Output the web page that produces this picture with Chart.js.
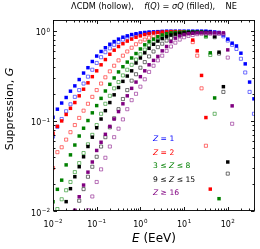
<!DOCTYPE html>
<html>
<head>
<meta charset="utf-8">
<script src="https://cdn.jsdelivr.net/npm/chart.js@4.4.1/dist/chart.umd.min.js"></script>
<style>
    html, body { margin: 0; padding: 0; background: #fff; }
    #wrap { width: 260px; height: 249px; }
</style>
</head>
<body>
<div id="wrap"><canvas id="chart" width="260" height="249"></canvas></div>
<script>
// energy grid (EeV), 10 points per decade
const energy = [
    0.01, 0.0126, 0.0158, 0.02, 0.0251, 0.0316, 0.0398, 0.0501, 0.0631, 0.0794,
    0.1, 0.126, 0.158, 0.2, 0.251, 0.316, 0.398, 0.501, 0.631, 0.794,
    1, 1.26, 1.58, 2, 2.51, 3.16, 3.98, 5.01, 6.31, 7.94,
    10, 12.6, 15.8, 20, 25.1, 31.6, 39.8, 50.1, 63.1, 79.4,
    100, 126, 158, 200, 251, 316, 398,
];

// f(Q) = sigma Q (filled markers)
const blueFilled = [
    0.11, 0.135, 0.158, 0.182, 0.214, 0.245, 0.288, 0.34, 0.39, 0.457,
    0.525, 0.59, 0.65, 0.71, 0.76, 0.81, 0.85, 0.88, 0.91, 0.93,
    0.95, 0.96, 0.97, 0.975, 0.98, 0.985, 0.99, 0.99, 0.99, 0.99,
    0.99, 0.99, 0.99, 0.99, 0.99, 0.99, 0.98, 0.97, 0.96, 0.90,
    0.81, 0.73, 0.68, 0.565, 0.43, 0.27, 0.176,
];
const redFilled = [
    0.073, 0.087, 0.10, 0.118, 0.138, 0.16, 0.19, 0.225, 0.265, 0.31,
    0.36, 0.42, 0.48, 0.55, 0.61, 0.67, 0.72, 0.77, 0.81, 0.85,
    0.88, 0.91, 0.93, 0.95, 0.96, 0.97, 0.975, 0.98, 0.98, 0.98,
    0.975, 0.95, 0.79, 0.60, 0.32, 0.109, 0.0175, null, null, null,
    null, null, null, null, null, null, null,
];
const greenFilled = [
    0.0127, 0.0174, 0.022, 0.0325, 0.042, 0.054, 0.068, 0.083, 0.101, 0.123,
    0.148, 0.178, 0.215, 0.255, 0.30, 0.35, 0.40, 0.45, 0.50, 0.56,
    0.63, 0.70, 0.76, 0.81, 0.86, 0.90, 0.93, 0.95, 0.96, 0.965,
    0.97, 0.97, 0.97, 0.97, 0.97, 0.88, 0.57, 0.18, 0.0137, null,
    null, null, null, null, null, null, null,
];
const blackFilled = [
    null, null, 0.0095, 0.0127, 0.0177, 0.024, 0.031, 0.04, 0.052, 0.066,
    0.084, 0.105, 0.13, 0.16, 0.195, 0.235, 0.275, 0.315, 0.36, 0.44,
    0.50, 0.57, 0.64, 0.71, 0.77, 0.82, 0.86, 0.90, 0.92, 0.94,
    0.95, 0.96, 0.96, 0.96, 0.96, 0.96, 0.96, 0.865, 0.58, 0.24,
    0.035, null, null, null, null, null, null,
];
const purpleFilled = [
    null, null, null, null, null, 0.0102, 0.0144, 0.0194, 0.027, 0.035,
    0.047, 0.058, 0.071, 0.087, 0.105, 0.127, 0.155, 0.19, 0.23, 0.27,
    0.31, 0.36, 0.42, 0.47, 0.52, 0.60, 0.67, 0.76, 0.83, 0.88,
    0.91, 0.93, 0.94, 0.95, 0.95, 0.95, 0.95, 0.95, 0.95, 0.95,
    0.615, 0.147, null, null, null, null, null,
];

// LambdaCDM (hollow markers)
const blueHollow = [
    0.067, 0.086, 0.105, 0.128, 0.153, 0.185, 0.22, 0.26, 0.31, 0.37,
    0.44, 0.51, 0.58, 0.64, 0.70, 0.75, 0.80, 0.84, 0.87, 0.90,
    0.92, 0.94, 0.95, 0.96, 0.97, 0.975, 0.98, 0.98, 0.98, 0.98,
    0.98, 0.98, 0.98, 0.98, 0.98, 0.98, 0.975, 0.96, 0.94, 0.87,
    0.78, 0.70, 0.63, 0.49, 0.345, 0.21, 0.12,
];
const redHollow = [
    0.03, 0.045, 0.051, 0.062, 0.075, 0.09, 0.108, 0.13, 0.155, 0.185,
    0.22, 0.26, 0.305, 0.355, 0.41, 0.47, 0.53, 0.59, 0.65, 0.71,
    0.76, 0.80, 0.84, 0.87, 0.90, 0.92, 0.94, 0.95, 0.96, 0.965,
    0.965, 0.93, 0.75, 0.53, 0.23, 0.053, null, null, null, null,
    null, null, null, null, null, null, null,
];
const greenHollow = [
    null, 0.0105, 0.0135, 0.017, 0.021, 0.027, 0.034, 0.044, 0.055, 0.07,
    0.09, 0.12, 0.155, 0.19, 0.23, 0.27, 0.32, 0.37, 0.42, 0.48,
    0.55, 0.62, 0.69, 0.75, 0.80, 0.85, 0.89, 0.92, 0.94, 0.95,
    0.96, 0.96, 0.96, 0.96, 0.96, 0.86, 0.54, 0.12, null, null,
    null, null, null, null, null, null, null,
];
const blackHollow = [
    null, null, null, null, null, 0.010, 0.013, 0.0175, 0.024, 0.031,
    0.04, 0.052, 0.066, 0.085, 0.107, 0.135, 0.175, 0.22, 0.28, 0.33,
    0.39, 0.45, 0.52, 0.59, 0.66, 0.72, 0.78, 0.83, 0.87, 0.90,
    0.92, 0.94, 0.95, 0.95, 0.95, 0.95, 0.95, 0.85, 0.56, 0.21,
    0.026, null, null, null, null, null, null,
];
const purpleHollow = [
    null, null, null, null, null, null, null, null, 0.0102, 0.0145,
    0.021, 0.029, 0.039, 0.052, 0.066, 0.082, 0.104, 0.135, 0.17, 0.2,
    0.24, 0.29, 0.35, 0.41, 0.47, 0.53, 0.60, 0.67, 0.74, 0.80,
    0.85, 0.88, 0.90, 0.92, 0.93, 0.93, 0.93, 0.93, 0.93, 0.93,
    0.505, 0.093, null, null, null, null, null,
];

const speciesColors = ["0,0,255", "255,0,0", "0,128,0", "0,0,0", "128,0,128"];
const filledSeries = [blueFilled, redFilled, greenFilled, blackFilled, purpleFilled];
const hollowSeries = [blueHollow, redHollow, greenHollow, blackHollow, purpleHollow];

// legend text pieces: [text, italic]
const legendLabels = [
    [["Z", true], [" = 1", false]],
    [["Z", true], [" = 2", false]],
    [["3 \u2264 ", false], ["Z", true], [" \u2264 8", false]],
    [["9 \u2264 ", false], ["Z", true], [" \u2264 15", false]],
    [["Z", true], [" \u2265 16", false]],
];
const titleParts = [
    ["\u039BCDM (hollow),    ", false], ["f", true], ["(", false], ["Q", true],
    [") = ", false], ["\u03C3Q", true], [" (filled),    NE", false],
];

const xTicks = [0.01, 0.1, 1, 10, 100];
const xTickExp = ["\u22122", "\u22121", "0", "1", "2"];
const yTicks = [0.01, 0.1, 1];
const yTickExp = ["\u22122", "\u22121", "0"];

const FONT = '"DejaVu Sans", sans-serif';

function toPoints(vals) {
    return energy.map((e, i) => ({ x: e, y: vals[i] })).filter(p => p.y !== null);
}

function drawParts(ctx, parts, x, y, size, align, color) {
    let total = 0;
    const widths = parts.map(([t, it]) => {
        ctx.font = `${it ? "italic " : ""}${size}px ${FONT}`;
        const w = ctx.measureText(t).width;
        total += w;
        return w;
    });
    let cx = align === "center" ? x - total / 2 : align === "right" ? x - total : x;
    ctx.fillStyle = color;
    ctx.textAlign = "left";
    ctx.textBaseline = "alphabetic";
    parts.forEach(([t, it], i) => {
        ctx.font = `${it ? "italic " : ""}${size}px ${FONT}`;
        ctx.fillText(t, cx, y);
        cx += widths[i];
    });
}

function drawPow(ctx, x, y, exp, align) {
    ctx.font = `8px ${FONT}`;
    const wb = ctx.measureText("10").width;
    ctx.font = `5.6px ${FONT}`;
    const we = ctx.measureText(exp).width;
    const total = wb + we + 0.5;
    const x0 = align === "center" ? x - total / 2 : x - total;
    ctx.fillStyle = "#000";
    ctx.textAlign = "left";
    ctx.textBaseline = "alphabetic";
    ctx.font = `8px ${FONT}`;
    ctx.fillText("10", x0, y);
    ctx.font = `5.6px ${FONT}`;
    ctx.fillText(exp, x0 + wb + 0.5, y - 3.8);
}

const decor = {
    id: "decor",
    afterDraw(chart) {
        const { ctx, chartArea: a, scales: { x, y } } = chart;
        const L = Math.round(a.left) + 0.5, R = Math.round(a.right) - 0.5;
        const T = Math.round(a.top) + 0.5, B = Math.round(a.bottom) - 0.5;
        ctx.save();
        ctx.strokeStyle = "#000";
        ctx.lineWidth = 0.9;
        ctx.strokeRect(L, T, R - L, B - T);

        // inward ticks on all four sides
        ctx.beginPath();
        xTicks.forEach(d => {
            for (let m = 1; m <= 9; m++) {
                const v = d * m;
                if (v > x.max) break;
                const px = Math.round(x.getPixelForValue(v)) + 0.5;
                const len = m === 1 ? 3.5 : 2;
                ctx.moveTo(px, B); ctx.lineTo(px, B - len);
                ctx.moveTo(px, T); ctx.lineTo(px, T + len);
            }
        });
        yTicks.forEach(d => {
            for (let m = 1; m <= 9; m++) {
                const v = d * m;
                if (v > y.max) break;
                const py = Math.round(y.getPixelForValue(v)) + 0.5;
                const len = m === 1 ? 3.5 : 2;
                ctx.moveTo(L, py); ctx.lineTo(L + len, py);
                ctx.moveTo(R, py); ctx.lineTo(R - len, py);
            }
        });
        ctx.stroke();

        xTicks.forEach((v, i) => drawPow(ctx, x.getPixelForValue(v), 227, xTickExp[i], "center"));
        yTicks.forEach((v, i) => drawPow(ctx, 50, y.getPixelForValue(v) + 4.5, yTickExp[i], "right"));

        // axis titles
        drawParts(ctx, [["E", true], [" (EeV)", false]], 154, 242, 12, "center", "#000");
        ctx.save();
        ctx.translate(13, 109);
        ctx.rotate(-Math.PI / 2);
        drawParts(ctx, [["Suppression, ", false], ["G", true]], 0, 0, 11, "center", "#000");
        ctx.restore();

        drawParts(ctx, titleParts, 154, 9, 8.2, "center", "#000");

        legendLabels.forEach((parts, i) => {
            drawParts(ctx, parts, 153, 141 + 13.6 * i, 7.6, "left", `rgb(${speciesColors[i]})`);
        });
        ctx.restore();
    },
};

const datasets = [];
speciesColors.forEach((c, i) => {
    datasets.push({
        data: toPoints(hollowSeries[i]),
        pointStyle: "rect",
        pointRadius: 2.2,
        pointBackgroundColor: "#fff",
        pointBorderColor: `rgba(${c},0.55)`,
        pointBorderWidth: 1,
        clip: 0,
        order: -(2 * i),
    });
    datasets.push({
        data: toPoints(filledSeries[i]),
        pointStyle: "rect",
        pointRadius: 2.45,
        pointBackgroundColor: `rgb(${c})`,
        pointBorderWidth: 0,
        clip: 0,
        order: -(2 * i + 1),
    });
});

new Chart(document.getElementById("chart"), {
    type: "scatter",
    data: { datasets },
    options: {
        responsive: false,
        animation: false,
        devicePixelRatio: 1,
        layout: { padding: { top: 20, right: 5, left: 0, bottom: 0 } },
        plugins: { legend: { display: false }, tooltip: { enabled: false } },
        scales: {
            x: {
                type: "logarithmic",
                min: 0.01,
                max: 420,
                bounds: "data",
                grid: { display: false },
                border: { display: false },
                ticks: { display: false },
                afterFit: s => { s.height = 38; },
            },
            y: {
                type: "logarithmic",
                min: 0.01,
                max: 1.32,
                bounds: "data",
                grid: { display: false },
                border: { display: false },
                ticks: { display: false },
                afterFit: s => { s.width = 53; },
            },
        },
    },
    plugins: [decor],
});
</script>
</body>
</html>
